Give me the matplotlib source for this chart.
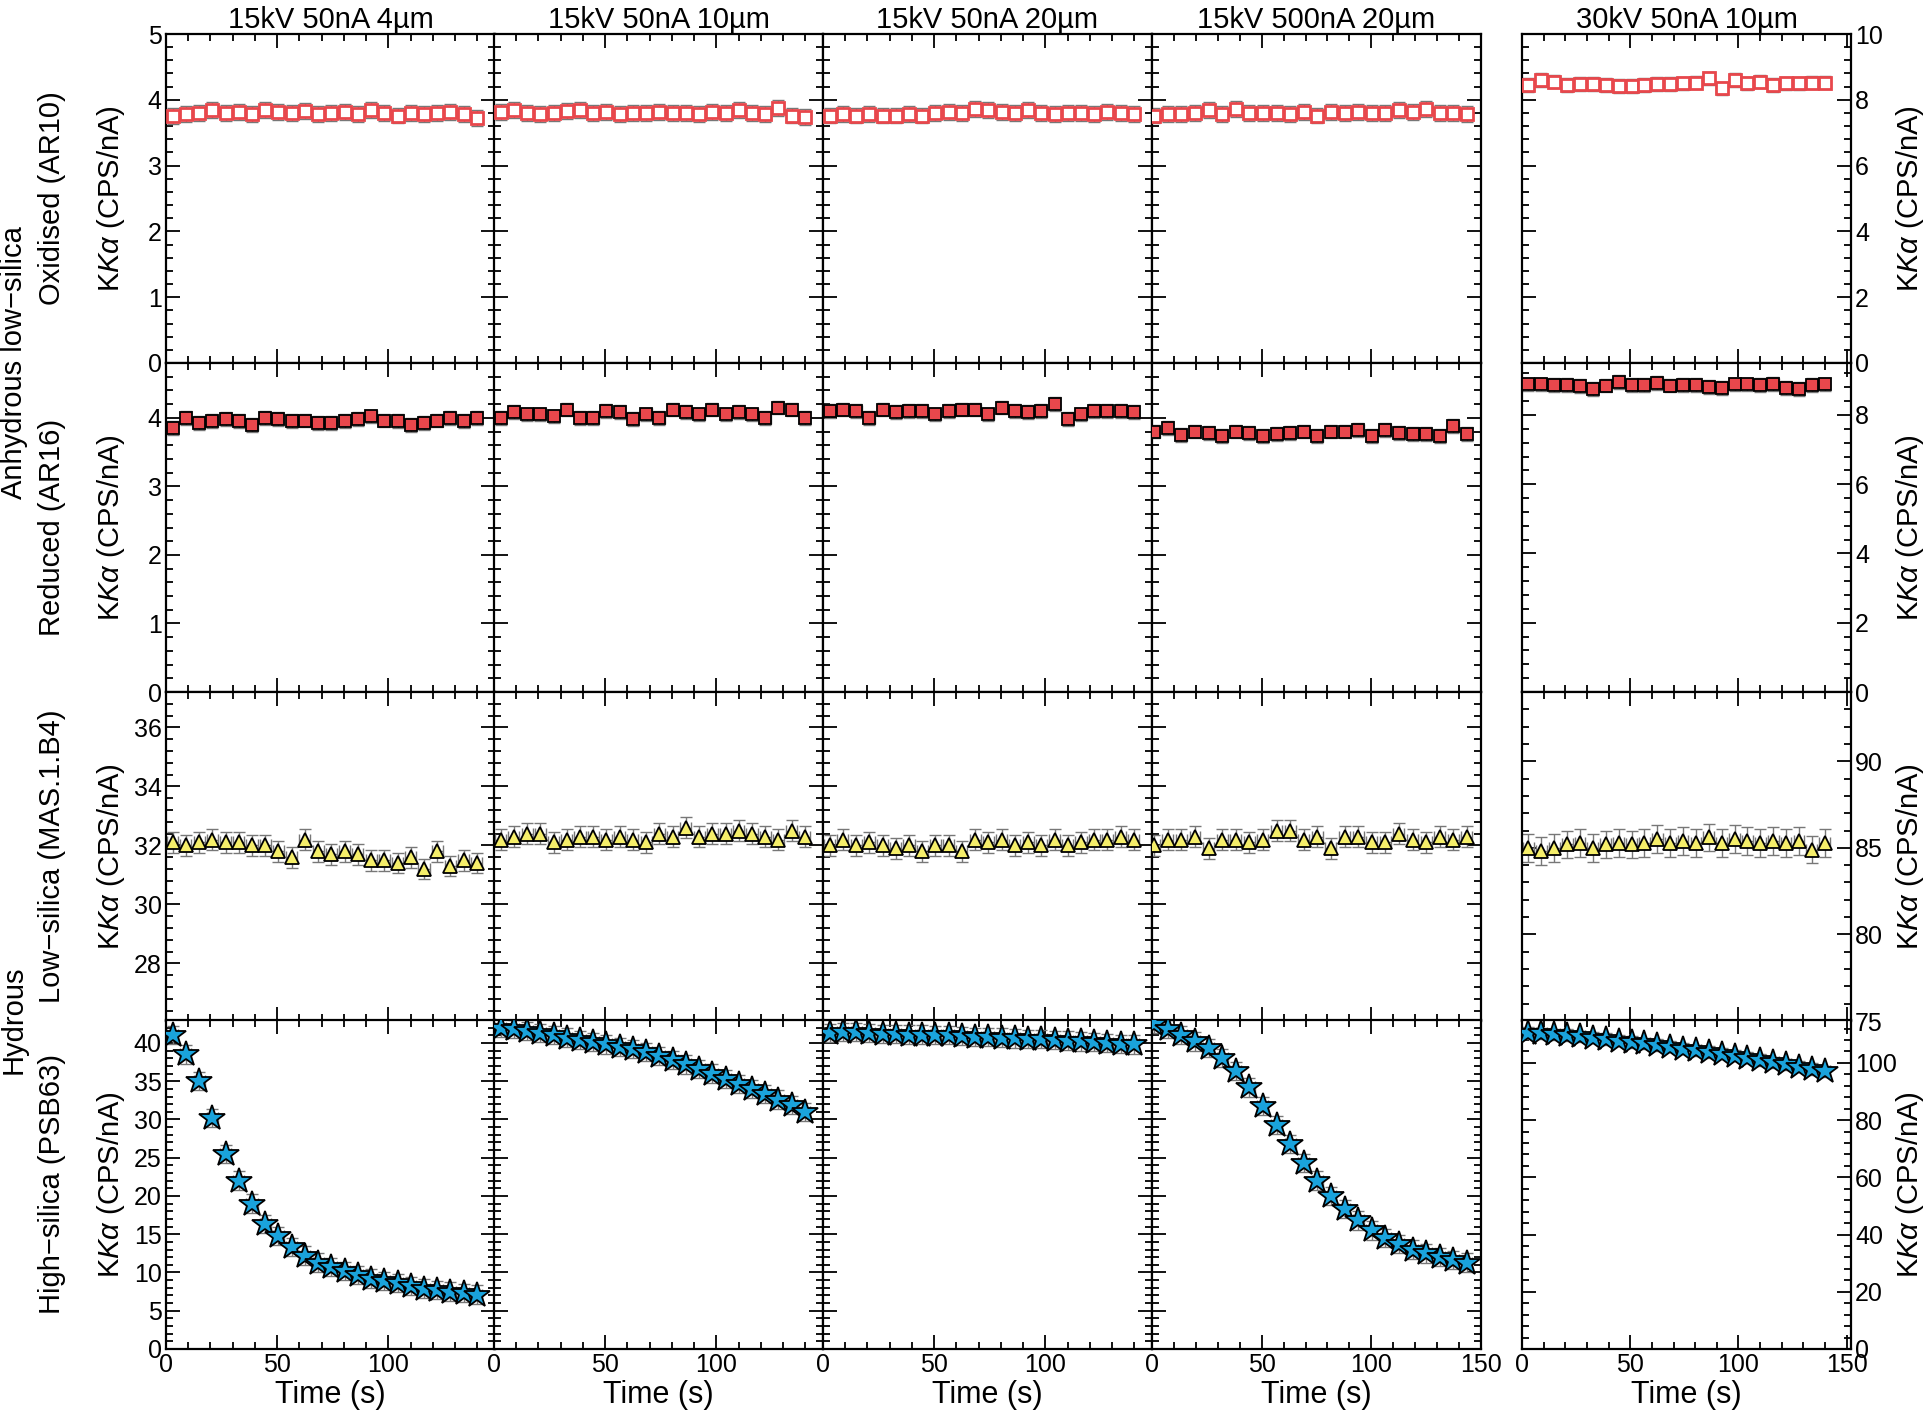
import matplotlib
matplotlib.use("Agg")
import matplotlib.pyplot as plt
import numpy as np
from matplotlib.ticker import MultipleLocator, AutoMinorLocator

plt.rcParams['font.family'] = ['Liberation Sans', 'DejaVu Sans']
plt.rcParams['mathtext.fontset'] = 'custom'
plt.rcParams['mathtext.it'] = 'Liberation Sans:italic'
plt.rcParams['mathtext.rm'] = 'Liberation Sans'

titles = ["15kV 50nA 4µm", "15kV 50nA 10µm", "15kV 50nA 20µm", "15kV 500nA 20µm", "30kV 50nA 10µm"]
row_labels = ["Oxidised (AR10)", "Reduced (AR16)", "Low\u2212silica (MAS.1.B4)", "High\u2212silica (PSB63)"]
group_labels = ["Anhydrous low\u2212silica", "Hydrous"]
time = [3 + 5.95 * i for i in range(24)]
time4 = [1 + 6.2 * i for i in range(24)]

ox = [
 [3.75,3.78,3.8,3.85,3.8,3.82,3.78,3.84,3.82,3.8,3.83,3.78,3.8,3.82,3.78,3.84,3.8,3.76,3.8,3.79,3.8,3.82,3.78,3.72],
 [3.82,3.85,3.8,3.78,3.8,3.83,3.85,3.8,3.82,3.78,3.8,3.8,3.82,3.8,3.8,3.78,3.82,3.8,3.85,3.8,3.78,3.88,3.76,3.74],
 [3.76,3.78,3.76,3.78,3.76,3.76,3.78,3.76,3.8,3.82,3.8,3.86,3.84,3.82,3.8,3.84,3.8,3.78,3.8,3.8,3.78,3.82,3.8,3.78],
 [3.76,3.78,3.78,3.8,3.84,3.78,3.86,3.8,3.8,3.8,3.78,3.82,3.76,3.82,3.8,3.82,3.8,3.8,3.84,3.82,3.86,3.8,3.8,3.78],
 [8.45,8.6,8.55,8.45,8.48,8.48,8.45,8.42,8.42,8.45,8.48,8.48,8.5,8.52,8.65,8.35,8.6,8.5,8.55,8.45,8.5,8.5,8.52,8.52],
]
red = [
 [3.85,4.0,3.92,3.95,3.98,3.95,3.9,4.0,3.98,3.95,3.96,3.92,3.92,3.95,3.98,4.02,3.96,3.95,3.9,3.92,3.96,4.0,3.95,4.0],
 [4.0,4.08,4.05,4.05,4.02,4.12,4.0,4.0,4.1,4.08,3.98,4.05,4.0,4.12,4.08,4.05,4.12,4.05,4.08,4.05,4.0,4.15,4.12,4.0],
 [4.1,4.12,4.1,4.0,4.12,4.08,4.1,4.1,4.05,4.1,4.12,4.12,4.05,4.15,4.1,4.08,4.1,4.2,3.98,4.05,4.1,4.1,4.1,4.08],
 [3.8,3.85,3.75,3.8,3.78,3.74,3.8,3.78,3.74,3.76,3.78,3.8,3.74,3.8,3.8,3.82,3.74,3.82,3.78,3.76,3.76,3.74,3.88,3.76],
 [8.88,8.88,8.86,8.86,8.84,8.75,8.85,8.95,8.86,8.86,8.92,8.85,8.86,8.86,8.8,8.78,8.88,8.88,8.86,8.9,8.78,8.75,8.86,8.88],
]
lows = [
 [32.1,32.0,32.1,32.2,32.1,32.1,32.0,32.0,31.8,31.6,32.2,31.8,31.7,31.8,31.7,31.5,31.5,31.4,31.6,31.2,31.8,31.3,31.5,31.4],
 [32.2,32.3,32.4,32.4,32.1,32.2,32.3,32.3,32.2,32.3,32.2,32.1,32.4,32.3,32.6,32.3,32.4,32.4,32.5,32.4,32.3,32.2,32.5,32.3],
 [32.0,32.2,32.0,32.1,32.0,31.9,32.0,31.8,32.0,32.0,31.8,32.2,32.1,32.2,32.0,32.1,32.0,32.2,32.0,32.1,32.2,32.2,32.3,32.2],
 [32.0,32.2,32.2,32.3,31.9,32.2,32.2,32.1,32.2,32.5,32.5,32.2,32.3,31.9,32.3,32.3,32.1,32.1,32.4,32.2,32.1,32.3,32.2,32.3],
 [85.0,84.8,85.0,85.2,85.3,85.0,85.2,85.3,85.2,85.3,85.5,85.3,85.4,85.3,85.6,85.3,85.5,85.4,85.3,85.4,85.3,85.4,84.9,85.3],
]
highs = [
 [41.0,38.5,35.0,30.2,25.5,22.0,19.0,16.3,14.8,13.3,12.2,11.3,10.7,10.2,9.7,9.2,8.9,8.6,8.2,7.9,7.7,7.5,7.3,7.1],
 [42.0,41.8,41.6,41.3,41.0,40.7,40.4,40.1,39.8,39.5,39.2,38.8,38.3,37.8,37.2,36.6,36.0,35.3,34.6,34.0,33.3,32.6,31.9,31.0],
 [41.3,41.4,41.4,41.3,41.2,41.2,41.1,41.1,41.0,41.0,40.9,40.8,40.8,40.7,40.6,40.5,40.5,40.4,40.3,40.2,40.1,40.0,39.9,39.8],
 [42.5,41.8,41.0,40.2,39.3,38.0,36.3,34.2,31.8,29.3,26.8,24.3,22.0,20.0,18.3,16.8,15.5,14.5,13.7,13.0,12.5,12.0,11.6,11.3],
 [110.5,110.3,110.0,109.7,109.3,108.8,108.3,107.8,107.3,106.8,106.3,105.7,105.0,104.4,103.8,103.2,102.5,101.8,101.0,100.2,99.5,98.7,97.8,97.0],
]

ylims_left = [(0, 5), (0, 4.8), (26.05, 37.2), (0, 43)]
ylims_right = [(0, 10), (0, 9.5), (75, 94), (0, 115)]
ymaj_left = [1, 1, 2, 5]
ymaj_right = [2, 2, 5, 20]

W, H = 1928, 1414
fig = plt.figure(figsize=(W / 100, H / 100), dpi=100)
col_lefts = [166, 494, 823, 1152, 1522]
colw = 329
row_tops = [34, 363, 692, 1020]
rowh = 329

styles = [
    dict(marker='s', mfc='white', mec='#e8474c', ms=9, mew=2),
    dict(marker='s', mfc='#e8474c', mec='black', ms=9, mew=1.3),
    dict(marker='^', mfc='#f5ee6a', mec='black', ms=10, mew=1.3),
    dict(marker='*', mfc='#1aa3dc', mec='black', ms=19, mew=1.3),
]
data = [ox, red, lows, highs]
err_abs = [[0.12]*4 + [0.2], [0.1]*4 + [0.2], [0.35]*4 + [0.8], [1.2]*4 + [2.0]]

for r in range(4):
    for c in range(5):
        ax = fig.add_axes([col_lefts[c] / W, 1 - (row_tops[r] + rowh) / H, colw / W, rowh / H])
        t = time4 if (c == 3) else time
        y = data[r][c]
        ax.errorbar(t, y, yerr=err_abs[r][c], xerr=2.5, fmt='none', ecolor='#777777',
                    elinewidth=1, capsize=4, capthick=1, zorder=2)
        ax.plot(t, y, ls='none', zorder=3, **styles[r])
        ax.set_xlim(0, 148 if c < 3 else (150 if c == 3 else 152))
        ax.xaxis.set_major_locator(MultipleLocator(50))
        ax.xaxis.set_minor_locator(MultipleLocator(10))
        if c < 4:
            ax.set_ylim(*ylims_left[r])
            ax.yaxis.set_major_locator(MultipleLocator(ymaj_left[r]))
        else:
            ax.set_ylim(*ylims_right[r])
            ax.yaxis.set_major_locator(MultipleLocator(ymaj_right[r]))
        ax.yaxis.set_minor_locator(AutoMinorLocator(5))
        ax.tick_params(which='both', direction='in', top=True, right=True, left=True, bottom=True,
                       labelsize=18, width=1.3, pad=3)
        ax.tick_params(which='major', length=10)
        ax.tick_params(which='minor', length=5)
        for s in ax.spines.values():
            s.set_linewidth(1.6)
        if c == 4:
            ax.tick_params(labelleft=False, labelright=True)
            ax.yaxis.set_label_position('right')
            ax.set_ylabel(r"K$K\alpha$ (CPS/nA)", fontsize=21)
            ax.yaxis.set_label_coords(1.13, 0.5)
        elif c == 0:
            ax.set_ylabel(r"K$K\alpha$ (CPS/nA)", fontsize=21)
            ax.yaxis.set_label_coords(-0.12, 0.5)
            ax.text(-0.345, 0.5, row_labels[r], transform=ax.transAxes, rotation=90,
                    ha='center', va='center', fontsize=21)
        else:
            ax.tick_params(labelleft=False)
        if r == 3:
            ax.set_xlabel("Time (s)", fontsize=22, labelpad=2)
            if c in (0, 1, 2):
                ax.set_xticks([0, 50, 100])
                ax.xaxis.set_minor_locator(MultipleLocator(10))
        else:
            ax.tick_params(labelbottom=False)
        if r == 0:
            ax.set_title(titles[c], fontsize=21, pad=4)

fig.text(14 / W, 1 - 363 / H, group_labels[0], rotation=90, ha='center', va='center', fontsize=21)
fig.text(14 / W, 1 - 1020 / H, group_labels[1], rotation=90, ha='center', va='center', fontsize=21)

fig.savefig("out.png", dpi=100)
